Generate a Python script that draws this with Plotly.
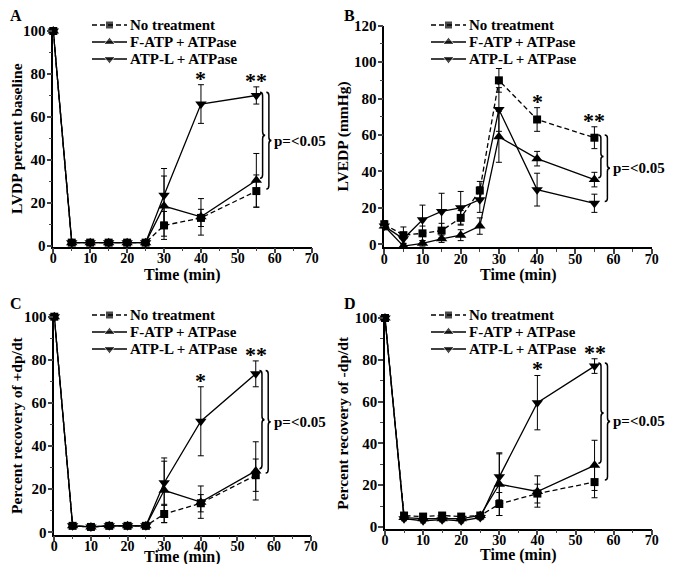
import plotly.graph_objects as go

# time points (min)
times = [0, 5, 10, 15, 20, 25, 30, 40, 55]

# A - LVDP percent baseline
lvdp_none = [100, 1.5, 1.5, 1.5, 1.5, 1.5, 9.5, 13, 25.5]
lvdp_none_err = [0, 0.5, 0.5, 0.5, 0.5, 0.5, 6.5, 4, 7.5]
lvdp_fatp = [100, 1.5, 1.5, 1.5, 1.5, 1.5, 18.5, 13.5, 30.5]
lvdp_fatp_err = [0, 0.5, 0.5, 0.5, 0.5, 0.5, 14, 8.5, 12.5]
lvdp_atpl = [100, 1.5, 1.5, 1.5, 1.5, 1.5, 23.5, 66, 70]
lvdp_atpl_err = [0, 0.5, 0.5, 0.5, 0.5, 0.5, 12.5, 9, 4]

# B - LVEDP (mmHg)
lvedp_none = [11, 5, 6, 7.5, 14.5, 29.5, 90, 68.5, 58.5]
lvedp_none_err = [2, 4.5, 4, 4, 4, 5, 6.5, 6.5, 6]
lvedp_fatp = [10, -1, 0.5, 3, 5, 10, 59, 47, 35.5]
lvedp_fatp_err = [2, 1.5, 1.5, 2, 3, 4.5, 14, 4, 4]
lvedp_atpl = [10, 3, 13.5, 18, 20, 24.5, 74, 30, 22.5]
lvedp_atpl_err = [2, 3, 8, 10, 9, 7, 12, 9, 5]

# C - recovery of +dp/dt
pdp_none = [100, 3, 2.5, 3, 3, 3, 8.5, 13.5, 26.5]
pdp_none_err = [0, 0.5, 0.5, 0.5, 0.5, 0.5, 4, 4, 7.5]
pdp_fatp = [100, 3, 2.5, 3, 3, 3, 19.5, 14, 28.5]
pdp_fatp_err = [0, 0.5, 0.5, 0.5, 0.5, 0.5, 15, 7.5, 13.5]
pdp_atpl = [100, 3, 2.5, 3, 3, 3, 23, 51.5, 73.5]
pdp_atpl_err = [0, 0.5, 0.5, 0.5, 0.5, 0.5, 10, 16, 6]

# D - recovery of -dp/dt
ndp_none = [100, 5.5, 5, 5.5, 5, 5.5, 11, 16, 21.5]
ndp_none_err = [0, 1, 1, 1, 1, 1, 5.5, 4.5, 7.5]
ndp_fatp = [100, 4.5, 4, 4, 4, 5.5, 20.5, 17, 29.5]
ndp_fatp_err = [0, 1, 1, 1, 1, 1, 15, 7.5, 12]
ndp_atpl = [100, 4, 3, 3.5, 3, 4.5, 24, 59.5, 77]
ndp_atpl_err = [0, 1, 1, 1, 1, 1, 11, 13, 3.5]

names = ["No treatment", "F-ATP + ATPase", "ATP-L + ATPase"]
letters = ["A", "B", "C", "D"]
ytitles = ["LVDP percent baseline", "LVEDP (mmHg)",
           "Percent recovery of +dp/dt", "Percent recovery of -dp/dt"]

# the page body has an 8px margin, so the figure is a bit smaller than the window
OFF = 8
W, H = 680 - 2 * OFF, 572 - 2 * OFF
FONT = "Liberation Serif"


def fx(px):
    return (px - OFF) / W


def fy(py):
    return 1 - (py - OFF) / H


panels = [
    dict(data=[(lvdp_none, lvdp_none_err), (lvdp_fatp, lvdp_fatp_err), (lvdp_atpl, lvdp_atpl_err)],
         xpx=(53.3, 311.7), ypx=(246.5, 31), yr=[-0.3, 100], star=2, xt=275,
         inner=(2, 1), outer=(2, 0), leg=(92, 25), let=(8, 15)),
    dict(data=[(lvedp_none, lvedp_none_err), (lvedp_fatp, lvedp_fatp_err), (lvedp_atpl, lvedp_atpl_err)],
         xpx=(384.3, 651.7), ypx=(247, 25.7), yr=[-1.5, 120], star=0, xt=275,
         inner=(0, 1), outer=(0, 2), leg=(431, 25), let=(342, 15)),
    dict(data=[(pdp_none, pdp_none_err), (pdp_fatp, pdp_fatp_err), (pdp_atpl, pdp_atpl_err)],
         xpx=(54.3, 310.7), ypx=(534.5, 316.7), yr=[-1, 100], star=2, xt=557,
         inner=(2, 1), outer=(2, 0), leg=(92, 315), let=(8, 303)),
    dict(data=[(ndp_none, ndp_none_err), (ndp_fatp, ndp_fatp_err), (ndp_atpl, ndp_atpl_err)],
         xpx=(385, 651.7), ypx=(528.7, 318), yr=[-0.8, 100], star=2, xt=555,
         inner=(2, 1), outer=(2, 0), leg=(431, 315), let=(342, 303)),
]

symbols = ["square", "triangle-up", "triangle-down"]
sizes = [8, 10, 10]
dashes = ["5px,3px", "solid", "solid"]


def brace(x0, top, bot, xr, yr, d=0.7, h=1.6):
    ym = (top + bot) / 2
    path = (f"M {x0},{top} Q {x0+d},{top} {x0+d},{top-h} "
            f"L {x0+d},{ym+h} Q {x0+d},{ym} {x0+2*d},{ym} "
            f"Q {x0+d},{ym} {x0+d},{ym-h} "
            f"L {x0+d},{bot+h} Q {x0+d},{bot} {x0},{bot}")
    return dict(type="path", path=path, xref=xr, yref=yr,
                line=dict(color="black", width=1.5))


def bold(size):
    return dict(family=FONT, size=size, color="black", weight="bold")


fig = go.Figure()
shapes, annots = [], []
layout = {}

for i, p in enumerate(panels):
    n = "" if i == 0 else str(i + 1)
    xr, yr = "x" + n, "y" + n
    for k, (vals, err) in enumerate(p["data"]):
        fig.add_trace(go.Scatter(
            x=times, y=vals, name=names[k], xaxis=xr, yaxis=yr, showlegend=False,
            mode="lines+markers", cliponaxis=False,
            line=dict(color="black", width=1.3, dash=dashes[k]),
            marker=dict(symbol=symbols[k], size=sizes[k], color="black"),
            error_y=dict(type="data", array=err, color="black", thickness=1, width=3),
        ))

    x0, x1 = p["xpx"]
    y0, y1 = p["ypx"]
    axis_common = dict(showline=True, linecolor="black", linewidth=1.5, ticks="outside",
                       ticklen=5, tickwidth=1.5, showgrid=False, zeroline=False,
                       automargin=False)
    layout["xaxis" + n] = dict(
        axis_common, domain=[fx(x0), fx(x1)], anchor=yr, range=[0, 70], dtick=10,
        ticklabelstandoff=-7, tickfont=bold(14),
        minor=dict(dtick=5, ticklen=3, tickwidth=1, ticks="outside"))
    layout["yaxis" + n] = dict(
        axis_common, domain=[fy(y0), fy(y1)], anchor=xr, range=p["yr"],
        dtick=20, tick0=0, ticklabelstandoff=-2, tickfont=bold(15),
        minor=dict(dtick=10, ticklen=3, tickwidth=1, ticks="outside"),
        title=dict(text=ytitles[i], standoff=2, font=bold(15.5)))

    # x-axis title
    annots.append(dict(text="Time (min)", xref="paper", yref="paper",
                       x=fx((x0 + x1) / 2), y=fy(p["xt"]), xanchor="center", yanchor="middle",
                       showarrow=False, font=bold(16)))

    # panel letter
    lx, ly = p["let"]
    annots.append(dict(text=letters[i], xref="paper", yref="paper",
                       x=fx(lx), y=fy(ly), xanchor="left", yanchor="middle",
                       showarrow=False, font=bold(16)))

    # legend drawn by hand: sample line with marker, then label
    gx, gy = p["leg"]
    for k in range(3):
        ry = gy + 17 * k
        fig.add_trace(go.Scatter(
            x=[gx, gx + 17.5, gx + 35], y=[ry, ry, ry], xaxis="x5", yaxis="y5",
            mode="lines+markers", showlegend=False, hoverinfo="skip",
            line=dict(color="black", width=1.3, dash=dashes[k]),
            marker=dict(symbol=symbols[k], size=[0, sizes[k], 0], color="black")))
        annots.append(dict(text=names[k], xref="paper", yref="paper",
                           x=fx(gx + 36), y=fy(ry), xanchor="left", yanchor="middle",
                           showarrow=False, font=bold(15)))

    # significance stars
    sv, se = p["data"][p["star"]]
    for idx, s in ((7, "*"), (8, "**")):
        annots.append(dict(text=s, x=times[idx], y=sv[idx] + se[idx], xref=xr, yref=yr,
                           yanchor="bottom", yshift=-8, showarrow=False, font=bold(22)))

    # braces at 55 min
    a, b = p["inner"]
    va, vb = p["data"][a][0][8], p["data"][b][0][8]
    shapes.append(brace(56.0, max(va, vb) + 1.5, min(va, vb) + 1, xr, yr))
    a, b = p["outer"]
    va, vb = p["data"][a][0][8], p["data"][b][0][8]
    top, bot = max(va, vb) + 1.5, min(va, vb) + 1
    shapes.append(brace(57.7, top, bot, xr, yr))
    annots.append(dict(text="p=<0.05", x=59.3, y=(top + bot) / 2, xref=xr, yref=yr,
                       xanchor="left", yanchor="middle", showarrow=False, font=bold(15)))

# overlay axes in page pixels for the hand-drawn legends
layout["xaxis5"] = dict(domain=[0, 1], range=[OFF, OFF + W], visible=False, anchor="y5", fixedrange=True)
layout["yaxis5"] = dict(domain=[0, 1], range=[OFF + H, OFF], visible=False, anchor="x5", fixedrange=True)

fig.update_layout(
    width=W, height=H, margin=dict(l=0, r=0, t=0, b=0),
    paper_bgcolor="white", plot_bgcolor="rgba(0,0,0,0)",
    shapes=shapes, annotations=annots, **layout,
)

fig.write_html("out.html")
